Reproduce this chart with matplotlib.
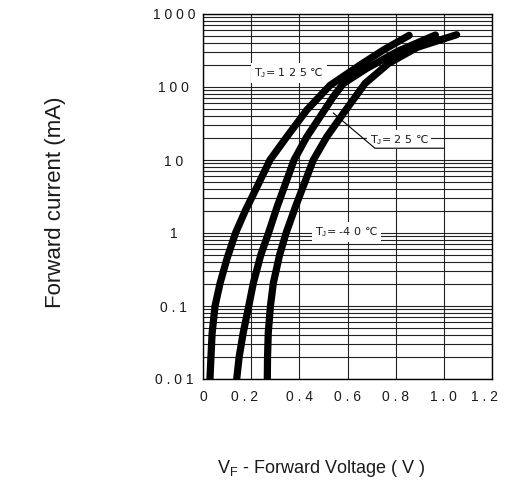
import matplotlib
matplotlib.use("Agg")
import matplotlib.pyplot as plt
from matplotlib.ticker import LogLocator, NullFormatter, FixedLocator
from matplotlib.transforms import ScaledTranslation

plt.rcParams["font.family"] = ["Liberation Sans", "DejaVu Sans"]
plt.rcParams["mathtext.fontset"] = "custom"
plt.rcParams["mathtext.rm"] = "Liberation Sans"
plt.rcParams["mathtext.it"] = "Liberation Sans"

# curves: forward voltage (V) vs forward current (mA)
i_125 = [0.01, 0.02, 0.043, 0.1, 0.206, 0.45, 1.0, 2.0, 4.2, 10, 20.8, 48.4, 105, 200, 321, 510]
v_125 = [0.029, 0.033, 0.038, 0.05, 0.071, 0.100, 0.135, 0.175, 0.223, 0.278, 0.348, 0.431, 0.527, 0.652, 0.749, 0.856]

i_25 = [0.01, 0.02, 0.043, 0.1, 0.206, 0.5, 1.0, 2.3, 10, 20.8, 39, 73.6, 112, 180, 310, 515]
v_25 = [0.140, 0.150, 0.167, 0.19, 0.209, 0.240, 0.272, 0.308, 0.378, 0.431, 0.486, 0.541, 0.583, 0.680, 0.810, 0.965]

i_m40 = [0.01, 0.02, 0.043, 0.1, 0.206, 0.5, 1.0, 2.29, 10, 20.8, 43.6, 112, 210, 350, 520]
v_m40 = [0.267, 0.268, 0.271, 0.28, 0.292, 0.318, 0.345, 0.384, 0.458, 0.514, 0.583, 0.673, 0.770, 0.890, 1.053]

x_ticks = [0, 0.2, 0.4, 0.6, 0.8, 1.0, 1.2]
x_labels = ["0", "0 . 2", "0 . 4", "0 . 6", "0 . 8", "1 . 0", "1 . 2"]
y_ticks = [0.01, 0.1, 1, 10, 100, 1000]
y_labels = ["0 . 0 1", "0 . 1", "1", "1 0", "1 0 0", "1 0 0 0"]

fig = plt.figure(figsize=(5.16, 4.90), dpi=100)
ax = fig.add_axes([203 / 516, 1 - 379 / 490, 289 / 516, 365 / 490])

ax.set_yscale("log")
ax.set_xlim(0, 1.2)
ax.set_ylim(0.01, 1000)

ax.yaxis.set_major_locator(FixedLocator(y_ticks))
ax.yaxis.set_minor_locator(LogLocator(base=10, subs=range(2, 10)))
ax.yaxis.set_minor_formatter(NullFormatter())
ax.set_yticks(y_ticks, y_labels)
ax.set_xticks(x_ticks, x_labels)
ax.tick_params(which="both", length=0, labelsize=10, colors="#1a1a1a")
ax.tick_params(axis="y", pad=21)
ax.tick_params(axis="x", pad=8)
for lab in ax.get_yticklabels():
    lab.set_ha("center")
# the 0.2 and 1.2 labels sit a little left of their grid lines in the original
xl = ax.get_xticklabels()
for k in (1, 6):
    xl[k].set_transform(xl[k].get_transform()
                        + ScaledTranslation(-0.07, 0, fig.dpi_scale_trans))

ax.grid(True, which="both", axis="y", color="#222222", lw=0.8)
ax.grid(True, which="major", axis="x", color="#222222", lw=0.8)
for sp in ax.spines.values():
    sp.set_linewidth(1.0)
    sp.set_color("black")

for v, i in [(v_125, i_125), (v_25, i_25), (v_m40, i_m40)]:
    ax.plot(v, i, color="black", lw=5.2, solid_capstyle="round",
            solid_joinstyle="round", zorder=4)

box = dict(facecolor="white", edgecolor="none", pad=2)
lab_kw = dict(fontsize=8, ha="center", va="center", bbox=box, zorder=3,
              family="DejaVu Sans", color="#1a1a1a")
ax.text(0.357, 155, "T$_{\\rm J}$= 1 2 5 ℃", **lab_kw)
ax.text(0.814, 19, "T$_{\\rm J}$= 2 5 ℃", **lab_kw)
ax.text(0.596, 1.03, "T$_{\\rm J}$= -4 0 ℃", **lab_kw)
ax.plot([0.541, 0.714, 1.0], [44, 14.5, 14.5], color="black", lw=0.8, zorder=3)

fig.text(55 / 516, 1 - 202 / 490, "Forward current (mA)", rotation=90,
         ha="center", va="center", fontsize=16, color="#1a1a1a")
fig.text(321 / 516, 1 - 468 / 490, "V$_{\\rm F}$ - Forward Voltage ( V )",
         ha="center", va="center", fontsize=13, color="#1a1a1a")

fig.savefig("out.png", dpi=100)
